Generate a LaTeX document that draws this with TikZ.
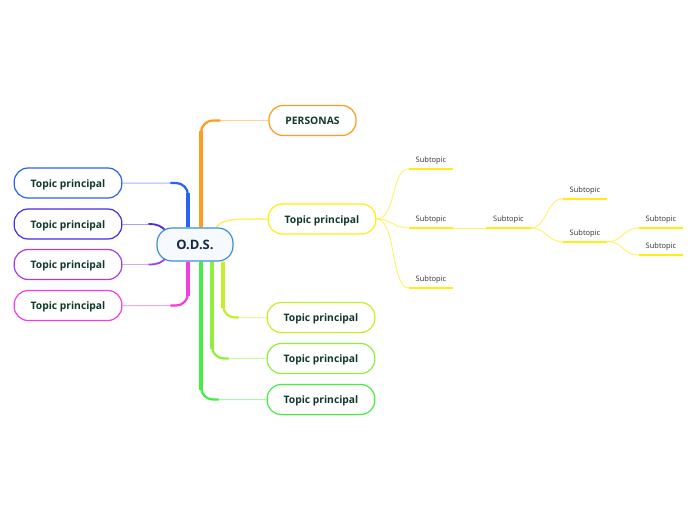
\documentclass[tikz,border=0pt]{standalone}
\usepackage{fontspec}
\setmainfont{Open Sans}
\usetikzlibrary{backgrounds}
\definecolor{cOrange}{HTML}{FF9B1F}
\definecolor{cYellow}{HTML}{FFEE11}
\definecolor{cYellowL}{HTML}{FFF266}
\definecolor{cLime}{HTML}{C4F02A}
\definecolor{cMid}{HTML}{8FEF3A}
\definecolor{cGreen}{HTML}{44EE44}
\definecolor{cBlue}{HTML}{2A62F2}
\definecolor{cIndigo}{HTML}{4B2BE6}
\definecolor{cPurple}{HTML}{A33DF0}
\definecolor{cMagenta}{HTML}{F23DE4}
\definecolor{cODS}{HTML}{3B8FD0}
\definecolor{cODSfill}{HTML}{F6FAFE}
\definecolor{cODStext}{HTML}{16294B}
\definecolor{cText}{HTML}{10392B}
\definecolor{cSub}{HTML}{333333}
\newcommand\mmbranch[4]{% color, start, end, shorten
  \draw[#1!45, line width=1pt, rounded corners=12pt] (#2) |- (#3);
  \draw[#1, line width=2.2pt, rounded corners=12pt, shorten >=#4] (#2) |- (#3);
  \draw[#1, line width=3.5pt, shorten >=10pt] (#2) -- (#2 |- #3);
}
\begin{document}
\begin{tikzpicture}[x=1pt,y=-1pt,
  topic/.style={draw, line width=1.2pt, rounded corners=14pt, fill=white,
    minimum height=30pt, inner xsep=16.5pt, text height=9pt, text depth=1pt,
    font=\bfseries\fontsize{10.3}{13}\selectfont, text=cText},
  odsbox/.style={draw=cODS, line width=1.2pt, rounded corners=15pt, fill=cODSfill,
    minimum width=76pt, minimum height=33pt, text height=10.5pt, text depth=0.5pt,
    font=\bfseries\fontsize{13}{15}\selectfont, text=cODStext},
  sub/.style={inner xsep=0pt, inner ysep=4pt, minimum width=44pt, text depth=2.5pt,
    anchor=south, font=\fontsize{7.5}{9}\selectfont, text=cSub},
  subline/.style={draw=cYellow, line width=2pt},
  subcurve/.style={draw=cYellowL, line width=0.9pt}]
\useasboundingbox (0,0) rectangle (696,520);

% main nodes
\node[odsbox] (ods) at (195,244.5) {O.D.S.};
\node[topic, draw=cOrange] (pers) at (312.5,120.5) {PERSONAS};
\node[topic, draw=cYellow] (ytop) at (322,219) {Topic principal};
\node[topic, draw=cLime] (g1) at (321,317.5) {Topic principal};
\node[topic, draw=cMid] (g2) at (321,358.5) {Topic principal};
\node[topic, draw=cGreen] (g3) at (321,399.5) {Topic principal};
\node[topic, draw=cBlue] (l1) at (68,183) {Topic principal};
\node[topic, draw=cIndigo] (l2) at (68,224) {Topic principal};
\node[topic, draw=cPurple] (l3) at (68,264.5) {Topic principal};
\node[topic, draw=cMagenta] (l4) at (68,305.5) {Topic principal};

% subtopics
\node[sub] (s1) at (431,168.7) {Subtopic};
\node[sub] (s2) at (431,228) {Subtopic};
\node[sub] (s3) at (431,288) {Subtopic};
\node[sub] (s4) at (508.5,228) {Subtopic};
\node[sub] (s5) at (585,198.7) {Subtopic};
\node[sub] (s6) at (585,241.7) {Subtopic};
\node[sub] (s7) at (661,228) {Subtopic};
\node[sub] (s8) at (661,255) {Subtopic};
\foreach \s in {s1,s2,s3,s4,s5,s6,s7,s8}
  \draw[subline] (\s.south west) -- (\s.south east);

\begin{pgfonlayer}{background}
  \fill[white] (0,0) rectangle (696,520);
  \coordinate (oT) at ([xshift=6pt]ods.north);
  \coordinate (bT) at ([xshift=-7pt]ods.north);
  \coordinate (mB) at ([xshift=-7pt]ods.south);
  \coordinate (g1B) at ([xshift=28pt]ods.south);
  \coordinate (g2B) at ([xshift=17pt]ods.south);
  \coordinate (g3B) at ([xshift=6pt]ods.south);
  \coordinate (yS) at ([xshift=21pt]ods.north);
  \coordinate (iE) at ([xshift=10pt,yshift=-4pt]ods.north west);
  \coordinate (pE) at ([xshift=10pt,yshift=4pt]ods.south west);

  \mmbranch{cOrange}{oT}{pers.west}{48pt}
  \mmbranch{cBlue}{bT}{l1.east}{48pt}
  \mmbranch{cMagenta}{mB}{l4.east}{48pt}
  \mmbranch{cLime}{g1B}{g1.west}{28pt}
  \mmbranch{cMid}{g2B}{g2.west}{38pt}
  \mmbranch{cGreen}{g3B}{g3.west}{48pt}

  \draw[cIndigo!45, line width=1pt] (l2.east) -- +(26,0) coordinate (iM);
  \draw[cIndigo, line width=1.8pt] (iM) .. controls +(10,0) and +(-5,-5) .. (iE);
  \draw[cPurple!45, line width=1pt] (l3.east) -- +(26,0) coordinate (pM);
  \draw[cPurple, line width=1.8pt] (pM) .. controls +(10,0) and +(-5,5) .. (pE);

  \draw[cYellowL, line width=1.5pt] (yS) .. controls +(6,-9) and +(-30,0) .. (ytop.west);

  \draw[subcurve] (ytop.east) .. controls +(20,0) and +(-18,0) .. (s1.south west);
  \draw[subcurve] (ytop.east) .. controls +(16,0) and +(-16,0) .. (s2.south west);
  \draw[subcurve] (ytop.east) .. controls +(20,0) and +(-18,0) .. (s3.south west);
  \draw[subcurve] (s2.south east) -- (s4.south west);
  \draw[subcurve] (s4.south east) .. controls +(16,0) and +(-16,0) .. (s5.south west);
  \draw[subcurve] (s4.south east) .. controls +(16,0) and +(-16,0) .. (s6.south west);
  \draw[subcurve] (s6.south east) .. controls +(16,0) and +(-16,0) .. (s7.south west);
  \draw[subcurve] (s6.south east) .. controls +(16,0) and +(-16,0) .. (s8.south west);
\end{pgfonlayer}
\end{tikzpicture}
\end{document}
